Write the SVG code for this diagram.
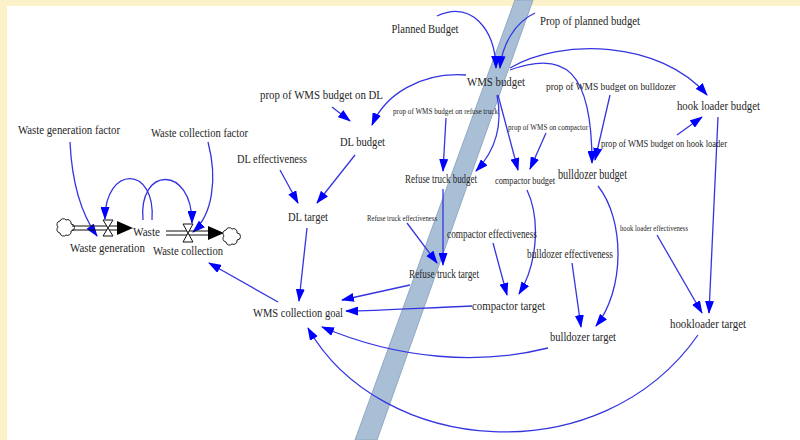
<svg xmlns="http://www.w3.org/2000/svg" width="800" height="440" viewBox="0 0 800 440">
<style>
text{font-family:"Liberation Serif","Times New Roman",serif;fill:#262626;text-anchor:middle}
.c{fill:none;stroke:#3535e0;stroke-width:1.3}
.pipe{stroke:#111;stroke-width:1.2;fill:none}
.valve{fill:#fff;stroke:#111;stroke-width:1}
.cloud{fill:#fff;stroke:#222;stroke-width:1}
</style>
<defs>
<marker id="ah" markerWidth="13" markerHeight="9" refX="12" refY="4.5" orient="auto" markerUnits="userSpaceOnUse">
<path d="M0,0 L13,4.5 L0,9 Z" fill="#0000ff"/>
</marker>
</defs>
<rect x="0" y="0" width="800" height="440" fill="#ffffff"/>
<rect x="0" y="0" width="800" height="6" fill="#fdf1c9"/>
<rect x="0" y="0" width="7" height="440" fill="#fdf1c9"/>
<polygon points="515,0 533,0 377,440 355,440" fill="#a9bfd6" stroke="#90a8c2" stroke-width="1"/>

<g id="connectors">
<path class="c" marker-end="url(#ah)" d="M70,142 C72,185 82,215 97,236"/>
<path class="c" marker-end="url(#ah)" d="M208,142 C218,180 212,215 193,232"/>
<path class="c" marker-end="url(#ah)" d="M152,220 C156,165 105,165 105,219"/>
<path class="c" marker-end="url(#ah)" d="M143,220 C138,166 192,165 192,223"/>
<path class="c" marker-end="url(#ah)" d="M278,302 L209,263"/>
<path class="c" marker-end="url(#ah)" d="M307,228 L299,301"/>
<path class="c" marker-end="url(#ah)" d="M280,170 L298,203"/>
<path class="c" marker-end="url(#ah)" d="M355,155 L317,203"/>
<path class="c" marker-end="url(#ah)" d="M332,107 L350,121"/>
<path class="c" marker-end="url(#ah)" d="M466,75 C420,72 385,95 372,125"/>
<path class="c" marker-end="url(#ah)" d="M437,16 C472,0 495,30 496,68"/>
<path class="c" marker-end="url(#ah)" d="M535,13 C515,22 502,45 500,68"/>
<path class="c" marker-end="url(#ah)" d="M510,68 C560,38 660,40 707,95"/>
<path class="c" marker-end="url(#ah)" d="M510,70 C565,50 592,70 592,163"/>
<path class="c" marker-end="url(#ah)" d="M610,95 L595,160"/>
<path class="c" marker-end="url(#ah)" d="M677,135 L702,117"/>
<path class="c" marker-end="url(#ah)" d="M718,117 L709,313"/>
<path class="c" marker-end="url(#ah)" d="M657,235 L702,313"/>
<path class="c" marker-end="url(#ah)" d="M497,95 C503,125 496,150 476,171"/>
<path class="c" marker-end="url(#ah)" d="M498,95 L518,170"/>
<path class="c" marker-end="url(#ah)" d="M446,118 L443,171"/>
<path class="c" marker-end="url(#ah)" d="M546,133 L530,169"/>
<path class="c" marker-end="url(#ah)" d="M443,189 L443,265"/>
<path class="c" marker-end="url(#ah)" d="M407,223 L437,263"/>
<path class="c" marker-end="url(#ah)" d="M410,285 L342,300"/>
<path class="c" marker-end="url(#ah)" d="M472,306 C420,308 380,311 346,311"/>
<path class="c" marker-end="url(#ah)" d="M527,190 C541,220 537,265 519,294"/>
<path class="c" marker-end="url(#ah)" d="M493,243 L507,295"/>
<path class="c" marker-end="url(#ah)" d="M572,263 L581,327"/>
<path class="c" marker-end="url(#ah)" d="M598,186 C625,220 625,290 596,326"/>
<path class="c" marker-end="url(#ah)" d="M548,348 C480,365 400,360 322,327"/>
<path class="c" marker-end="url(#ah)" d="M698,335 C600,475 380,455 308,328"/>
</g>

<g id="flow-waste-generation">
<path class="cloud" d="M60,221 a3.5,3.5 0 0 1 6,-1 a3.5,3.5 0 0 1 5,4 a3.5,3.5 0 0 1 0,7 a3.5,3.5 0 0 1 -5,4 a3.5,3.5 0 0 1 -6,-2 a3.5,3.5 0 0 1 -2,-6 a3.5,3.5 0 0 1 2,-6 z"/>
<line class="pipe" x1="72" y1="226" x2="119" y2="226"/>
<line class="pipe" x1="72" y1="230" x2="119" y2="230"/>
<polygon points="117,221 133,228 117,235" fill="#000"/>
<polygon class="valve" points="103,220 113,220 108,228 113,236 103,236 108,228"/>
<text x="107.5" y="252" font-size="13" textLength="75" lengthAdjust="spacingAndGlyphs">Waste generation</text>
</g>
<g id="stock-waste">
<text x="146.5" y="236" font-size="13" textLength="27" lengthAdjust="spacingAndGlyphs">Waste</text>
</g>
<g id="flow-waste-collection">
<line class="pipe" x1="166" y1="231" x2="210" y2="231"/>
<line class="pipe" x1="166" y1="235" x2="210" y2="235"/>
<polygon points="208,226 224,233 208,240" fill="#000"/>
<polygon class="valve" points="183,224 193,224 188,233 193,242 183,242 188,233"/>
<path class="cloud" d="M226,230 a3.5,3.5 0 0 1 6,-1 a3.5,3.5 0 0 1 5,4 a3.5,3.5 0 0 1 0,7 a3.5,3.5 0 0 1 -5,4 a3.5,3.5 0 0 1 -6,-2 a3.5,3.5 0 0 1 -2,-6 a3.5,3.5 0 0 1 2,-6 z"/>
<text x="188" y="255" font-size="13" textLength="70" lengthAdjust="spacingAndGlyphs">Waste collection</text>
</g>

<g id="waste-generation-factor"><text x="69" y="134" font-size="13.5" textLength="102" lengthAdjust="spacingAndGlyphs">Waste generation factor</text></g>
<g id="waste-collection-factor"><text x="199.5" y="137" font-size="13.5" textLength="97" lengthAdjust="spacingAndGlyphs">Waste collection factor</text></g>
<g id="prop-dl"><text x="321.5" y="99" font-size="13.5" textLength="123" lengthAdjust="spacingAndGlyphs">prop of WMS budget on DL</text></g>
<g id="dl-budget"><text x="362.5" y="146" font-size="13.5" textLength="45" lengthAdjust="spacingAndGlyphs">DL budget</text></g>
<g id="planned-budget"><text x="425" y="33" font-size="13" textLength="67" lengthAdjust="spacingAndGlyphs">Planned Budget</text></g>
<g id="prop-planned-budget"><text x="590" y="25" font-size="13.5" textLength="100" lengthAdjust="spacingAndGlyphs">Prop of planned budget</text></g>
<g id="wms-budget"><text x="496" y="86" font-size="13.5" textLength="58" lengthAdjust="spacingAndGlyphs">WMS budget</text></g>
<g id="prop-bulldozer"><text x="611" y="90" font-size="11" textLength="130" lengthAdjust="spacingAndGlyphs">prop of WMS budget on bulldozer</text></g>
<g id="hook-loader-budget"><text x="718.5" y="110" font-size="13.5" textLength="83" lengthAdjust="spacingAndGlyphs">hook loader budget</text></g>
<g id="prop-refuse-truck"><text x="445.5" y="114" font-size="7.5" textLength="105" lengthAdjust="spacingAndGlyphs">prop of WMS budget on refuse truck</text></g>
<g id="prop-compactor"><text x="548" y="130" font-size="8.5" textLength="80" lengthAdjust="spacingAndGlyphs">prop of WMS on compactor</text></g>
<g id="prop-hook-loader"><text x="664" y="147" font-size="10.5" textLength="126" lengthAdjust="spacingAndGlyphs">prop of WMS budget on hook loader</text></g>
<g id="refuse-truck-budget"><text x="441" y="183" font-size="12" textLength="72" lengthAdjust="spacingAndGlyphs">Refuse truck budget</text></g>
<g id="compactor-budget"><text x="525" y="184" font-size="10" textLength="60" lengthAdjust="spacingAndGlyphs">compactor budget</text></g>
<g id="bulldozer-budget"><text x="592.5" y="179" font-size="14.5" textLength="69" lengthAdjust="spacingAndGlyphs">bulldozer budget</text></g>
<g id="dl-effectiveness"><text x="272" y="163" font-size="13.5" textLength="70" lengthAdjust="spacingAndGlyphs">DL effectiveness</text></g>
<g id="dl-target"><text x="308" y="221" font-size="13.5" textLength="40" lengthAdjust="spacingAndGlyphs">DL target</text></g>
<g id="refuse-truck-effectiveness"><text x="402" y="221" font-size="8" textLength="70" lengthAdjust="spacingAndGlyphs">Refuse truck effectiveness</text></g>
<g id="compactor-effectiveness"><text x="492" y="238" font-size="11.5" textLength="90" lengthAdjust="spacingAndGlyphs">compactor effectiveness</text></g>
<g id="bulldozer-effectiveness"><text x="570" y="258" font-size="11.5" textLength="86" lengthAdjust="spacingAndGlyphs">bulldozer effectiveness</text></g>
<g id="hook-loader-effectiveness"><text x="654" y="231" font-size="8.5" textLength="68" lengthAdjust="spacingAndGlyphs">hook loader effectiveness</text></g>
<g id="refuse-truck-target"><text x="444" y="278" font-size="12.5" textLength="70" lengthAdjust="spacingAndGlyphs">Refuse truck target</text></g>
<g id="compactor-target"><text x="508.5" y="310" font-size="12.5" textLength="73" lengthAdjust="spacingAndGlyphs">compactor target</text></g>
<g id="bulldozer-target"><text x="583" y="341" font-size="13" textLength="66" lengthAdjust="spacingAndGlyphs">bulldozer target</text></g>
<g id="hookloader-target"><text x="708" y="328" font-size="13.5" textLength="76" lengthAdjust="spacingAndGlyphs">hookloader target</text></g>
<g id="wms-collection-goal"><text x="298" y="317" font-size="13.5" textLength="90" lengthAdjust="spacingAndGlyphs">WMS collection goal</text></g>
</svg>
